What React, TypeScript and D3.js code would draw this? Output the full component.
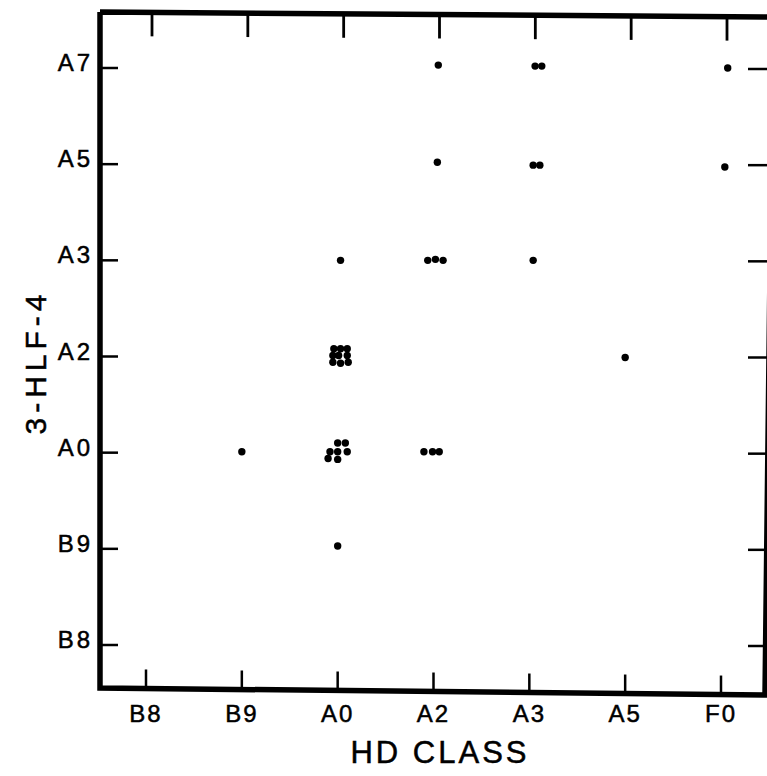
import React from "react";
import * as d3 from "d3";

const xCats = ["B8", "B9", "A0", "A2", "A3", "A5", "F0"];
const yCats = ["B8", "B9", "A0", "A2", "A3", "A5", "A7"];

// point positions on category-index scales (jittered clusters)
const xVals = [
  1.0,
  2.03,
  1.96, 2.03, 2.1, 1.95, 2.01, 2.1, 1.95, 2.03, 2.11,
  2.0, 2.08, 1.92, 2.0, 2.1, 1.9, 2.0,
  2.0,
  3.05, 3.04, 2.94, 3.02, 3.1, 2.9, 2.99, 3.06,
  4.06, 4.13, 4.04, 4.11, 4.04,
  5.0,
  6.07, 6.04,
];
const yVals = [
  2.01,
  4.0,
  3.08, 3.08, 3.08, 3.01, 3.01, 3.01, 2.94, 2.93, 2.94,
  2.1, 2.1, 2.01, 2.01, 2.01, 1.94, 1.93,
  1.03,
  6.03, 5.02, 4.0, 4.01, 4.0, 2.01, 2.01, 2.01,
  6.02, 6.02, 4.99, 4.99, 4.0,
  2.99,
  6.0, 4.97,
];

const W = 767;
const H = 776;
const FONT = "'Liberation Sans', Arial, sans-serif";

export default function App() {
  const x = d3.scaleLinear().domain([0, 6]).range([146, 721]);
  const y = d3.scaleLinear().domain([0, 6]).range([645, 68]);

  const left = 100;
  const rightTop = 773;
  const rightBot = 765;
  const topL = 12, topR = 17;
  const botL = 688, botR = 695;
  const yTop = (px: number) => topL + ((px - left) * (topR - topL)) / (rightTop - left);
  const yBot = (px: number) => botL + ((px - left) * (botR - botL)) / (rightBot - left);

  const frame = d3.line()([
    [left, topL],
    [rightTop, topR],
    [rightBot, botR],
    [left, botL],
    [left, topL],
  ]);

  return (
    <svg width={W} height={H} style={{ position: "absolute", left: 0, top: 0, background: "#fff" }}>
      <rect x={0} y={0} width={W} height={H} fill="#fff" />
      <path d={frame || ""} fill="none" stroke="#000" strokeWidth={5.5} strokeLinejoin="miter" />
      {/* x ticks */}
      {xCats.map((c, i) => (
        <g key={"xt" + c}>
          <line x1={x(i)} x2={x(i)} y1={yBot(x(i))} y2={yBot(x(i)) - 19} stroke="#000" strokeWidth={2.5} />
          <line x1={x(i) + 6} x2={x(i) + 6} y1={yTop(x(i))} y2={yTop(x(i)) + 24} stroke="#000" strokeWidth={2.8} />
          <text x={x(i)} y={722} textAnchor="middle" fontFamily={FONT} fontSize={24} letterSpacing={2}
            stroke="#000" strokeWidth={0.5}>
            {c}
          </text>
        </g>
      ))}
      {/* y ticks */}
      {yCats.map((c, i) => (
        <g key={"yt" + c}>
          <line x1={left} x2={left + 18} y1={y(i)} y2={y(i)} stroke="#000" strokeWidth={2.5} />
          <line x1={748} x2={767} y1={y(i) + 1} y2={y(i) + 1} stroke="#000" strokeWidth={2.5} />
          <text x={93} y={y(i) + 3} textAnchor="end" fontFamily={FONT} fontSize={24} letterSpacing={3}
            stroke="#000" strokeWidth={0.5}>
            {c}
          </text>
        </g>
      ))}
      {/* points */}
      {xVals.map((v, i) => (
        <circle key={"p" + i} cx={x(v)} cy={y(yVals[i])} r={3.7} fill="#000" />
      ))}
      <text x={440} y={763} textAnchor="middle" fontFamily={FONT} fontSize={31} letterSpacing={3}
        stroke="#000" strokeWidth={0.5}>
        HD CLASS
      </text>
      <text
        transform={`translate(46, 362) rotate(-90)`}
        textAnchor="middle"
        fontFamily={FONT}
        fontSize={30}
        letterSpacing={5}
        stroke="#000"
        strokeWidth={0.5}
      >
        3-HLF-4
      </text>
    </svg>
  );
}
